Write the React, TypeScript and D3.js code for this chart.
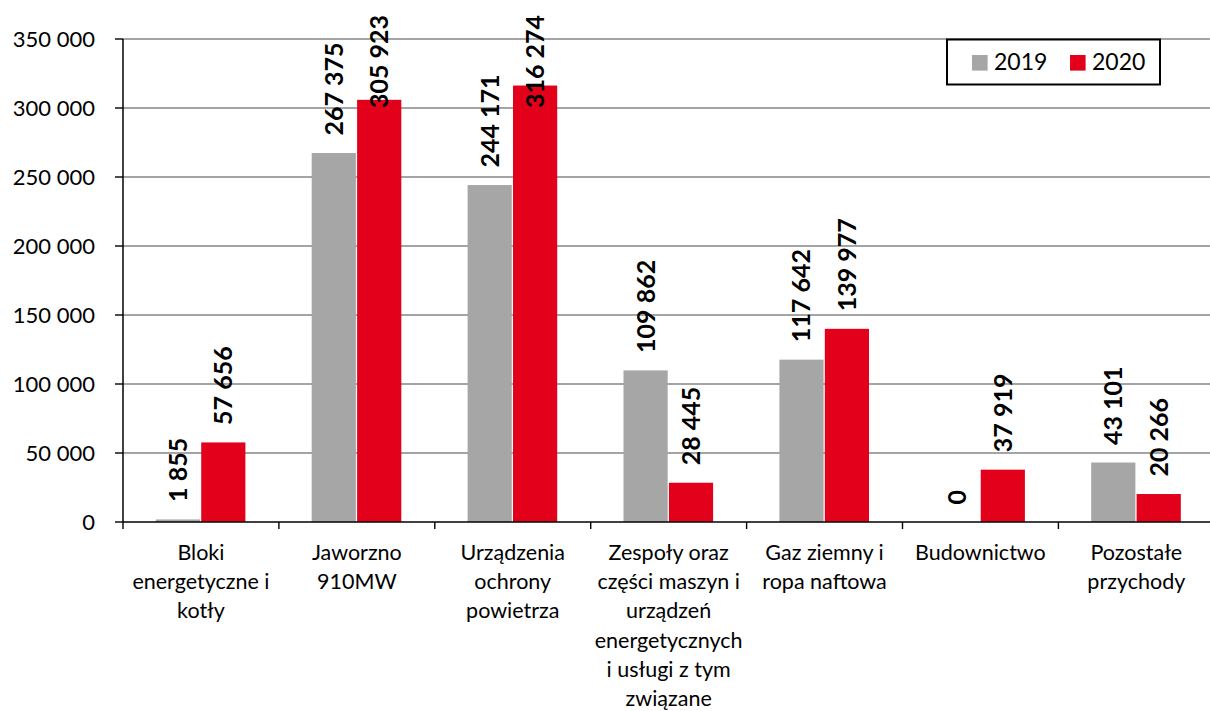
import React from "react";
import * as d3 from "d3";

const categories: string[] = [
  "Bloki\nenergetyczne i\nkotły",
  "Jaworzno\n910MW",
  "Urządzenia\nochrony\npowietrza",
  "Zespoły oraz\nczęści maszyn i\nurządzeń\nenergetycznych\ni usługi z tym\nzwiązane",
  "Gaz ziemny i\nropa naftowa",
  "Budownictwo",
  "Pozostałe\nprzychody",
];
const seriesNames: string[] = ["2019", "2020"];
const values2019: number[] = [1855, 267375, 244171, 109862, 117642, 0, 43101];
const values2020: number[] = [57656, 305923, 316274, 28445, 139977, 37919, 20266];
const yTicks: number[] = [0, 50000, 100000, 150000, 200000, 250000, 300000, 350000];
const seriesColors: string[] = ["#A6A6A6", "#E2001A"];

const W = 1210;
const H = 711;
const plotLeft = 123;
const plotTop = 39;
const plotBottom = 522;
const catStep = 155.9;
const FONT = "Lato, 'Open Sans', sans-serif";

const locale = d3.formatLocale({ decimal: ",", thousands: " ", grouping: [3], currency: ["", ""] });
const fmt = locale.format(",d");

let ctx: CanvasRenderingContext2D | null = null;
function measure(text: string, font: string): number {
  if (!ctx) {
    const c = document.createElement("canvas");
    ctx = c.getContext("2d");
  }
  if (!ctx) return text.length * 14;
  ctx.font = font;
  return ctx.measureText(text).width;
}

export default function App() {
  const x0 = d3
    .scaleBand<number>()
    .domain(categories.map((_, i) => i))
    .range([plotLeft, plotLeft + categories.length * catStep])
    .padding(0);
  const x1 = d3.scaleBand<string>().domain(seriesNames).range([32.8, 122.4]).paddingInner(0.027).paddingOuter(0);
  const y = d3.scaleLinear().domain([0, 350000]).range([plotBottom, plotTop]);

  const series = [values2019, values2020];
  const labelSize = 25;
  const labelFont = `bold ${labelSize}px Lato`;

  return (
    <svg
      width={W}
      height={H}
      style={{ position: "absolute", left: 0, top: 0, display: "block", background: "#fff" }}
      fontFamily={FONT}
    >
      {/* gridlines */}
      {yTicks.filter((t) => t > 0).map((t) => (
        <line key={"g" + t} x1={plotLeft} x2={W} y1={y(t)} y2={y(t)} stroke="#868686" strokeWidth={1.4} />
      ))}
      {/* y tick labels and marks */}
      {yTicks.map((t) => (
        <g key={"yt" + t}>
          <line x1={115} x2={plotLeft} y1={y(t)} y2={y(t)} stroke="#000" strokeWidth={1.4} />
          <text x={95} y={y(t)} dy="0.36em" textAnchor="end" fontSize={22} fill="#000">
            {fmt(t)}
          </text>
        </g>
      ))}
      {/* bars */}
      {series.map((vals, si) =>
        vals.map((v, ci) => {
          const bx = (x0(ci) as number) + (x1(seriesNames[si]) as number);
          return (
            <rect
              key={`b${si}-${ci}`}
              x={bx}
              y={y(v)}
              width={x1.bandwidth()}
              height={plotBottom - y(v)}
              fill={seriesColors[si]}
            />
          );
        })
      )}
      {/* axes */}
      <line x1={plotLeft} x2={plotLeft} y1={plotTop} y2={plotBottom} stroke="#000" strokeWidth={1.5} />
      <line x1={plotLeft} x2={W} y1={plotBottom} y2={plotBottom} stroke="#000" strokeWidth={1.5} />
      {d3.range(categories.length + 1).map((i) => {
        const xx = plotLeft + i * catStep;
        return <line key={"xt" + i} x1={xx} x2={xx} y1={plotBottom} y2={plotBottom + 7} stroke="#000" strokeWidth={1.4} />;
      })}
      {/* data labels */}
      {series.map((vals, si) =>
        vals.map((v, ci) => {
          const cx = (x0(ci) as number) + (x1(seriesNames[si]) as number) + x1.bandwidth() / 2;
          const txt = fmt(v);
          const len = measure(txt, labelFont);
          const base = y(v) - 17.5;
          const clamped = base - len < 15;
          const ty = clamped ? 15 : base;
          return (
            <text
              key={`l${si}-${ci}`}
              transform={`translate(${cx},${ty}) rotate(-90)`}
              dy="0.36em"
              textAnchor={clamped ? "end" : "start"}
              fontWeight="bold"
              fontSize={labelSize}
              fill="#000"
            >
              {txt}
            </text>
          );
        })
      )}
      {/* category labels */}
      {categories.map((c, ci) => {
        const cx = (x0(ci) as number) + x0.bandwidth() / 2;
        return (
          <text key={"c" + ci} x={cx} y={560} textAnchor="middle" fontSize={21.5} fill="#000">
            {c.split("\n").map((ln, li) => (
              <tspan key={li} x={cx} y={560 + li * 29.2}>
                {ln}
              </tspan>
            ))}
          </text>
        );
      })}
      {/* legend */}
      <rect x={947} y={39.5} width={213} height={45} fill="#fff" stroke="#000" strokeWidth={2} />
      {seriesNames.map((s, i) => (
        <g key={"lg" + s}>
          <rect x={972 + i * 98} y={55} width={15.6} height={15.6} fill={seriesColors[i]} />
          <text x={994 + i * 98} y={70} fontSize={23} fill="#000">
            {s}
          </text>
        </g>
      ))}
    </svg>
  );
}
